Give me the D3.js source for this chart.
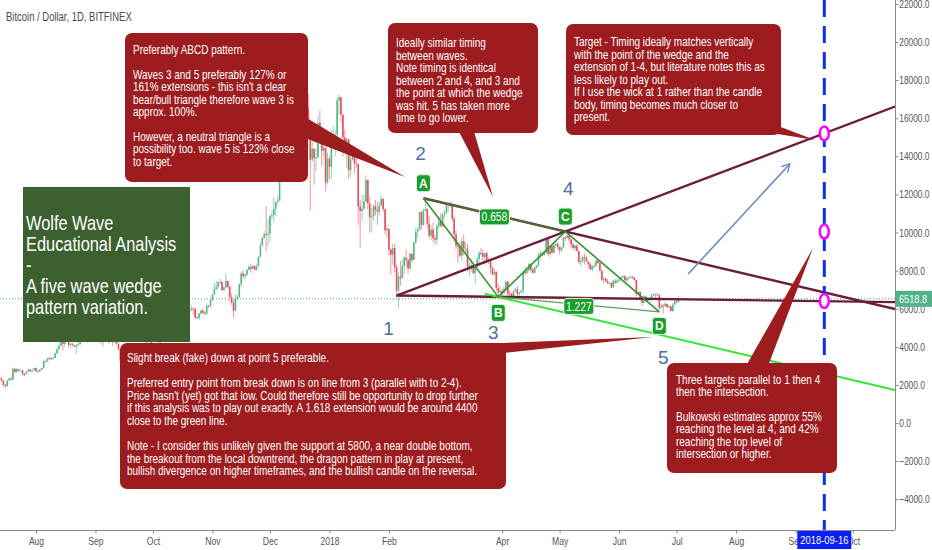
<!DOCTYPE html>
<html><head><meta charset="utf-8">
<script src="https://cdn.jsdelivr.net/npm/d3@7"></script>
<style>
html,body{margin:0;padding:0;background:#fff;}
svg{display:block;font-family:"Liberation Sans",Arial,sans-serif;}
</style></head><body>
<svg id="chart" width="932" height="550"></svg>
<script>
// ---------------- DATA ----------------
const title = "Bitcoin / Dollar, 1D, BITFINEX";
const startDate = "2017-07-13";
const startOpen = 2380;
// daily [close, high, low]; open = previous close
const jul2017 = [[2350,2420,2320],[2220,2370,2180],[1980,2230,1960],[1930,2050,1840],[2230,2260,1920],[2330,2400,2210],[2270,2420,2240],[2850,2900,2260],[2680,2860,2620],[2830,2880,2650],[2760,2850,2700],[2760,2790,2710],[2580,2770,2480],[2570,2620,2450],[2700,2720,2540],[2800,2840,2680],[2720,2810,2690],[2780,2790,2660],[2880,2900,2750]];
const aug2017 = [[2720,2920,2680],[2710,2770,2680],[2800,2830,2700],[2880,2900,2780],[3250,3290,2870],[3230,3270,3180],[3400,3420,3210],[3350,3480,3330],[3420,3450,3300],[3420,3440,3360],[3650,3700,3410],[3880,3950,3620],[4060,4190,3850],[4330,4340,4030],[4160,4400,3800],[4380,4400,4000],[4300,4480,4260],[4100,4360,3950],[4170,4190,3950],[4080,4190,4060],[4010,4090,3980],[4090,4130,3610],[4140,4250,4050],[4320,4340,4110],[4360,4440,4300],[4350,4380,4310],[4350,4390,4330],[4390,4400,4200],[4600,4620,4370],[4590,4640,4490],[4740,4760,4580]];
const sep2017 = [[4940,4970,4730],[4580,4980,4480],[4630,4720,4450],[4290,4620,4120],[4450,4500,3980],[4620,4660,4440],[4620,4650,4520],[4330,4670,4150],[4350,4370,4230],[4300,4340,4050],[4250,4330,4200],[4170,4350,4100],[3880,4170,3780],[3240,3920,3200],[3700,3780,2980],[3690,3850,3550],[3690,3760,3530],[4080,4120,3690],[3910,4090,3850],[3890,4040,3850],[3630,3890,3580],[3600,3750,3520],[3790,3820,3580],[3680,3790,3640],[3930,3970,3680],[3890,3980,3860],[4210,4230,3880],[4190,4270,4150],[4170,4210,4030],[4340,4370,4160]];
const oct2017 = [[4410,4420,4300],[4400,4470,4380],[4320,4450,4270],[4230,4350,4180],[4330,4360,4200],[4370,4420,4330],[4440,4460,4350],[4620,4640,4430],[4780,4880,4560],[4790,4920,4730],[4840,4880,4760],[5440,5450,4840],[5640,5860,5400],[5830,5850,5600],[5700,5860,5450],[5760,5800,5600],[5600,5770,5550],[5590,5610,5120],[5710,5730,5520],[6010,6080,5640],[6010,6180,5870],[5980,6070,5720],[5530,6030,5470],[5520,5610,5480],[5750,5780,5420],[5900,5960,5700],[5780,5990,5700],[5750,5850,5690],[6150,6290,5680],[6130,6200,6050],[6460,6470,6100]];
const nov2017 = [[6740,6780,6380],[7030,7330,6720],[7150,7470,6980],[7380,7450,7000],[7400,7600,7300],[6980,7440,6930],[7120,7200,6950],[7460,7860,7080],[7140,7470,7060],[6610,7270,6400],[6340,6810,6200],[5890,6470,5500],[6540,6780,5860],[6600,6730,6430],[7280,7330,6600],[7850,7960,7130],[7710,8000,7600],[7790,7860,7480],[8040,8100,7700],[8200,8280,8030],[8090,8370,7900],[8250,8300,8080],[8040,8270,8010],[8230,8340,8000],[8730,8760,8200],[9310,9520,8700],[9730,9740,9300],[9920,10080,9660],[9890,11400,9000],[9950,10700,9300]];
const dec2017 = [[10860,10940,9500],[10910,11160,10700],[11240,11850,10500],[11600,11620,10850],[11670,11900,11460],[13750,13860,11670],[16850,17170,13730],[16050,17300,13800],[14870,16300,13300],[15060,15700,13000],[16730,17400,15050],[17080,17500,16400],[16280,17270,15900],[16440,16900,16000],[17570,17990,16360],[19100,19200,17500],[19000,19890,18600],[18960,19180,18050],[17370,19000,16500],[16500,17800,15100],[15490,17300,14900],[13830,15800,11160],[14400,15500,13700],[13900,14400,12500],[13950,14400,13200],[15760,16100,13900],[15440,16400,14800],[14290,15500,13500],[14450,15100,14000],[12620,14500,12150],[13880,14200,12500]];
const jan2018 = [[13450,14000,12800],[14780,15400,12800],[15100,15600,14700],[15150,15400,14000],[16940,17100,15000],[17100,17250,16200],[16190,17100,15800],[14990,16200,14000],[14430,15400,14200],[14900,14950,13400],[13270,14900,12800],[13840,14100,12900],[14210,14500,13800],[13630,14400,13100],[13590,14300,13400],[11360,13600,10400],[11130,11700,9200],[11250,12000,10600],[11630,12000,11200],[12750,13000,11600],[11530,12800,11200],[10800,11900,10000],[10850,11300,10000],[11380,11500,10600],[11180,11700,10900],[11090,11600,10400],[11420,11600,10900],[11760,12000,11400],[11220,11800,11100],[10120,11250,9900],[10200,10400,9700]];
const feb2018 = [[9100,10200,8800],[8830,9200,7800],[9180,9450,8300],[8180,9400,7900],[6950,8300,6600],[7690,7900,6000],[7600,8500,7200],[8260,8600,7600],[8680,8750,7800],[8560,9100,8200],[8100,8600,7850],[8880,8950,8100],[8560,8900,8400],[9490,9520,8550],[10050,10250,9400],[10170,10300,9700],[11080,11100,10100],[10400,11100,10150],[11150,11250,10350],[11230,11790,11100],[10470,11300,10200],[9830,10900,9700],[10160,10400,9600],[9700,10500,9500],[9620,9900,9350],[10330,10450,9400],[10580,10850,10200],[10330,11000,10300]];
const mar2018 = [[10920,11050,10250],[11020,11200,10800],[11440,11500,11000],[11510,11550,11100],[11440,11650,11350],[10720,11450,10600],[9910,10900,9500],[9300,10100,9100],[9230,9400,8400],[8780,9500,8700],[9540,9750,8500],[9150,9900,8800],[9150,9500,8900],[8200,9400,7950],[8270,8450,7700],[8290,8600,7900],[7870,8350,7800],[8200,8300,7300],[8600,8700,8100],[8920,9050,8300],[8900,9180,8800],[8720,9100,8500],[8910,8950,8300],[8540,9000,8500],[8460,8700,8350],[8140,8500,7850],[7790,8200,7750],[7940,8100,7750],[7090,7950,6950],[6850,7300,6600],[6930,7200,6800]];
const apr2018 = [[6810,7050,6450],[7050,7150,6800],[7420,7500,7000],[6790,7450,6700],[6780,6950,6600],[6610,6850,6530],[6900,7050,6600],[7020,7100,6900],[6770,7200,6620],[6840,6880,6680],[6950,6990,6830],[7920,8000,6760],[7890,8200,7750],[8000,8200,7800],[8350,8400,8000],[8060,8400,7900],[7890,8150,7850],[8170,8220,7870],[8280,8300,8100],[8860,8950,8200],[8920,9050,8600],[8800,9000,8750],[8940,9000,8800],[9650,9700,8900],[8870,9750,8750],[9280,9300,8700],[8930,9350,8900],[9350,9450,8900],[9400,9550,9200],[9240,9450,9100]];
const may2018 = [[9070,9250,8850],[9220,9250,9000],[9740,9780,9200],[9700,9800,9550],[9850,9990,9700],[9640,9900,9500],[9370,9650,9200],[9180,9450,9100],[9310,9350,9000],[9030,9380,9000],[8450,9050,8350],[8490,8700,8200],[8710,8800,8400],[8680,8900,8300],[8480,8800,8450],[8340,8480,8150],[8060,8400,8050],[8240,8270,7950],[8240,8380,8150],[8530,8560,8200],[8400,8550,8350],[8000,8420,7950],[7520,8020,7450],[7580,7700,7300],[7450,7650,7380],[7340,7550,7300],[7350,7420,7250],[7110,7400,7080],[7460,7540,7100],[7380,7550,7300],[7480,7600,7350]];
const jun2018 = [[7520,7580,7400],[7640,7700,7470],[7710,7780,7600],[7490,7750,7450],[7620,7650,7400],[7650,7700,7500],[7680,7750,7630],[7620,7700,7550],[7500,7680,7480],[6770,7520,6650],[6880,6920,6700],[6550,6900,6500],[6310,6620,6150],[6640,6700,6300],[6400,6660,6350],[6500,6550,6400],[6460,6580,6440],[6700,6800,6420],[6740,6830,6680],[6760,6800,6560],[6720,6800,6700],[6050,6740,5940],[6160,6250,6000],[6150,6250,5750],[6250,6350,6080],[6080,6280,6060],[6130,6190,6030],[5880,6150,5850],[6200,6300,5830],[6390,6500,6200]];
const jul2018 = [[6360,6440,6270],[6518.8,6650,6300]];

const yTicks = [-4000,-2000,0,2000,4000,6000,8000,10000,12000,14000,16000,18000,20000,22000];
const xTickDates = ["2017-08-01","2017-09-01","2017-10-01","2017-11-01","2017-12-01","2018-01-01","2018-02-01","2018-04-01","2018-05-01","2018-06-01","2018-07-01","2018-08-01","2018-09-01","2018-10-01"];
const xTickLabels = ["Aug","Sep","Oct","Nov","Dec","2018","Feb","Apr","May","Jun","Jul","Aug","Sep","Oct"];

// Wolfe wave points (wave number, ABCD letter, date, price)
const waveNums = ["1","2","3","4","5"];
const waveLetters = [null,"A","B","C","D"];
const waveDates = ["2018-02-05","2018-02-19","2018-03-30","2018-05-04","2018-06-22"];
const waveValues = [6690, 11800, 6620, 10050, 5830];
const ratioLabels = ["0.658","1.227"];
const greenLineStart = "2018-03-23";
const targetDate = "2018-09-16";
const targetValues = [15200, 10050, 6400];
const lastPrice = 6518.8;
const arrowDates = ["2018-07-07","2018-08-29"];
const arrowValues = [7820, 13600];

// ---------------- SETUP ----------------
const svg = d3.select("#chart");
const plotR = 895, plotB = 530;
const parse = d3.utcParse("%Y-%m-%d");
const DAY = 864e5;
const x = d3.scaleUtc()
  .domain([new Date(Date.UTC(2017,6,13,5,31)), new Date(Date.UTC(2018,9,22,20,38))])
  .range([0, plotR]);
const y = d3.scaleLinear().domain([-4000, 22000]).range([499.2, 3.9]);

// narrow text helper (horizontal compression)
function ntext(sel, tx, ty, str, size, sx, anchor){
  return sel.append("text").attr("transform",`translate(${tx},${ty}) scale(${sx},1)`)
    .attr("text-anchor",anchor||"start").attr("font-size",size).text(str);
}

const defs = svg.append("defs");
defs.append("clipPath").attr("id","plot")
  .append("rect").attr("x",0).attr("y",0).attr("width",plotR).attr("height",plotB);
defs.append("marker").attr("id","arr")
  .attr("viewBox","0 0 10 10").attr("refX",9).attr("refY",5)
  .attr("markerWidth",9).attr("markerHeight",9).attr("orient","auto").attr("markerUnits","userSpaceOnUse")
  .append("path").attr("d","M0,0 L9,5 L0,10").attr("fill","none").attr("stroke","#6f87c7").attr("stroke-width",1.6);

// candles
const months = [jul2017,aug2017,sep2017,oct2017,nov2017,dec2017,jan2018,feb2018,mar2018,apr2018,may2018,jun2018,jul2018];
const rows = [].concat(...months);
const t0 = parse(startDate).getTime();
const candles = rows.map((r,i) => ({
  date: new Date(t0 + i*DAY),
  o: i === 0 ? startOpen : rows[i-1][0],
  c: r[0], h: r[1], l: r[2]
}));
const UP = "#53b987", DN = "#eb4d5c";
const cg = svg.append("g").attr("clip-path","url(#plot)");
cg.selectAll("line.w").data(candles).join("line")
  .attr("x1",d=>x(d.date)).attr("x2",d=>x(d.date))
  .attr("y1",d=>y(d.h)).attr("y2",d=>y(d.l))
  .attr("stroke",d=>d.c>=d.o?UP:DN).attr("stroke-width",0.8).attr("opacity",0.75);
cg.selectAll("rect.b").data(candles).join("rect")
  .attr("x",d=>x(d.date)-0.8).attr("width",1.6)
  .attr("y",d=>y(Math.max(d.o,d.c)))
  .attr("height",d=>Math.max(1,Math.abs(y(d.o)-y(d.c))))
  .attr("fill",d=>d.c>=d.o?UP:DN);

// last price dotted line
cg.append("line").attr("x1",0).attr("x2",plotR).attr("y1",y(lastPrice)).attr("y2",y(lastPrice))
  .attr("stroke","#3a9c80").attr("stroke-width",1).attr("stroke-dasharray","1,2");

// ---------------- PATTERN ----------------
const P = waveDates.map((d,i)=>({date:parse(d), v:waveValues[i]}));
const endDate = x.invert(plotR);
function extend(a, b, toDate){
  const s = (b.v - a.v)/(b.date - a.date);
  return a.v + s*(toDate - a.date);
}
const lg = svg.append("g").attr("clip-path","url(#plot)");
const MAROON = "#6b1d3a";
const seg = (a,b,col,w,op)=>lg.append("line")
  .attr("x1",x(a.date)).attr("y1",y(a.v)).attr("x2",x(b.date)).attr("y2",y(b.v))
  .attr("stroke",col).attr("stroke-width",w).attr("opacity",op||1);
seg(P[0], {date:endDate, v:extend(P[0],P[3],endDate)}, MAROON, 2.4);   // 1-4
seg(P[1], {date:endDate, v:extend(P[1],P[3],endDate)}, MAROON, 2.4);   // 2-4
seg(P[0], {date:endDate, v:extend(P[0],P[2],endDate)}, MAROON, 2.4);   // 1-3
const slope24 = (P[3].v-P[1].v)/(P[3].date-P[1].date);
const gs = parse(greenLineStart);
seg({date:gs, v:P[2].v + slope24*(gs-P[2].date)}, {date:endDate, v:P[2].v + slope24*(endDate-P[2].date)}, "#33e633", 2);

seg(P[1],P[3],"#3f8a2a",1.6,0.85);
seg(P[2],P[4],"#5f9f5f",1.2);
lg.append("path").attr("d", d3.line().x(d=>x(d.date)).y(d=>y(d.v))(P.slice(1)))
  .attr("fill","none").attr("stroke","#2f9630").attr("stroke-width",1.6);

const tx = x(parse(targetDate));
lg.append("line").attr("x1",tx).attr("x2",tx).attr("y1",0).attr("y2",plotB)
  .attr("stroke","#1030f0").attr("stroke-width",3).attr("stroke-dasharray","17,9");
lg.selectAll("ellipse.t").data(targetValues).join("ellipse")
  .attr("cx",tx).attr("cy",d=>y(d)).attr("rx",4.5).attr("ry",7)
  .attr("fill","#fff").attr("stroke","#ff00ff").attr("stroke-width",2.5);

lg.append("line")
  .attr("x1",x(parse(arrowDates[0]))).attr("y1",y(arrowValues[0]))
  .attr("x2",x(parse(arrowDates[1]))).attr("y2",y(arrowValues[1]))
  .attr("stroke","#6f87c7").attr("stroke-width",1.6).attr("marker-end","url(#arr)");

const ratioPairs = [[P[1],P[3]],[P[2],P[4]]];
ratioPairs.forEach((pr,i)=>{
  const mx = (x(pr[0].date)+x(pr[1].date))/2, my = (y(pr[0].v)+y(pr[1].v))/2 + 2;
  const g = svg.append("g").attr("transform",`translate(${mx},${my})`);
  g.append("rect").attr("x",-15).attr("y",-8).attr("width",30).attr("height",16).attr("rx",3)
    .attr("fill","#1b9e2b").attr("stroke","#e8f5e8").attr("stroke-width",1);
  ntext(g, 0, 4.5, ratioLabels[i], 12.5, 0.82, "middle").attr("fill","#fff");
});

const letterOff = [0,-15,16,-15,14];
P.forEach((p,i)=>{
  if(!waveLetters[i]) return;
  const g = svg.append("g").attr("transform",`translate(${x(p.date)},${y(p.v)+letterOff[i]})`);
  g.append("rect").attr("x",-7).attr("y",-8.5).attr("width",14).attr("height",17).attr("rx",3)
    .attr("fill","#1b9e2b").attr("stroke","#e8f5e8").attr("stroke-width",1);
  g.append("text").attr("text-anchor","middle").attr("y",4.5).attr("fill","#fff")
    .attr("font-size",12).attr("font-weight","bold").text(waveLetters[i]);
});
const numOff = [[-8,32],[-3,-45],[-5,35],[3,-44],[4,45]];
P.forEach((p,i)=>{
  svg.append("text").attr("x",x(p.date)+numOff[i][0]).attr("y",y(p.v)+numOff[i][1]+7)
    .attr("text-anchor","middle").attr("font-size",19).attr("fill","#4d6e9e").text(waveNums[i]);
});

// ---------------- AXES ----------------
const AX = "#8a8a8a", TXT = "#555";
svg.append("line").attr("x1",plotR+0.5).attr("x2",plotR+0.5).attr("y1",0).attr("y2",plotB).attr("stroke",AX);
svg.append("line").attr("x1",0).attr("x2",plotR).attr("y1",plotB+0.5).attr("y2",plotB+0.5).attr("stroke",AX);
const ya = svg.append("g").attr("transform",`translate(${plotR+0.5},0)`)
  .call(d3.axisRight(y).tickValues(yTicks).tickSize(3).tickPadding(2).tickFormat(d3.format(".1f")));
ya.select(".domain").remove();
ya.selectAll("line").attr("stroke",AX);
ya.selectAll("text").attr("fill",TXT).attr("font-size",11).attr("font-family","'Liberation Sans',Arial,sans-serif")
  .attr("transform","scale(0.76,1)");
const xa = svg.append("g").attr("transform",`translate(0,${plotB+0.5})`)
  .call(d3.axisBottom(x).tickValues(xTickDates.map(parse)).tickSize(3).tickPadding(4)
    .tickFormat((d,i)=>xTickLabels[i]));
xa.select(".domain").remove();
xa.selectAll("line").attr("stroke",AX);
xa.selectAll("text").attr("fill",TXT).attr("font-size",11).attr("font-family","'Liberation Sans',Arial,sans-serif")
  .attr("transform","scale(0.78,1)");

svg.append("rect").attr("x",plotR+1).attr("y",y(lastPrice)-8).attr("width",37).attr("height",16).attr("fill","#4fb387");
ntext(svg, plotR+4, y(lastPrice)+4, d3.format(".1f")(lastPrice), 11.5, 0.8).attr("fill","#fff");
svg.append("rect").attr("x",tx-27).attr("y",plotB+1).attr("width",54).attr("height",18).attr("fill","#0a1ef5");
ntext(svg, tx, plotB+14, targetDate, 11.5, 0.82, "middle").attr("fill","#fff");

ntext(svg, 6, 21, title, 12, 0.79).attr("fill","#4a4a4a");

// ---------------- CALLOUTS ----------------
const RED = "#9c1c1f";
const callouts = [
  {x:125,y:33,w:183,h:149, tip:[[300,114],[300,136],[405,177]], tx:133, ty:54, lh:12.4,
   lines:["Preferably ABCD pattern.","","Waves 3 and 5 preferably 127% or","161% extensions - this isn't a clear","bear/bull triangle therefore wave 3 is","approx. 100%.","","However, a neutral triangle is a","possibility too. wave 5 is 123% close","to target."]},
  {x:388,y:23,w:150,h:110, tip:[[457,128],[473,128],[493,197]], tx:396, ty:47, lh:12.5,
   lines:["Ideally similar timing","between waves.","Note timing is identical","between 2 and 4, and 3 and","the point at which the wedge","was hit. 5 has taken more","time to go lower."]},
  {x:566,y:24,w:215,h:111, tip:[[752,130],[778,126],[815,140]], tx:574, ty:46, lh:12.5,
   lines:["Target - Timing ideally matches vertically","with the point of the wedge and the","extension of 1-4, but literature notes this as","less likely to play out.","If I use the wick at 1 rather than the candle","body, timing becomes much closer to","present."]},
  {x:120,y:343,w:386,h:146, tip:[[480,344],[504,353],[653,337]], tx:127, ty:362, lh:12.6,
   lines:["Slight break (fake) down at point 5 preferable.","","Preferred entry point from break down is on line from 3 (parallel with to 2-4).","Price hasn't (yet) got that low. Could therefore still be opportunity to drop further","if this analysis was to play out exactly. A 1.618 extension would be around 4400","close to the green line.","","Note - I consider this unlikely given the support at 5800, a near double bottom,","the breakout from the local downtrend, the dragon pattern in play at present,","bullish divergence on higher timeframes, and the bullish candle on the reversal."]},
  {x:667,y:363,w:170,h:110, tip:[[746,366],[768,366],[813,248]], tx:676, ty:383.5, lh:12.4,
   lines:["Three targets parallel to 1 then 4","then the intersection.","","Bulkowski estimates approx 55%","reaching the level at 4, and 42%","reaching the top level of","intersection or higher."]}
];
callouts.forEach(c=>{
  const g = svg.append("g");
  g.append("polygon").attr("points",c.tip.map(p=>p.join(",")).join(" ")).attr("fill",RED);
  g.append("rect").attr("x",c.x).attr("y",c.y).attr("width",c.w).attr("height",c.h).attr("rx",7).attr("fill",RED);
  c.lines.forEach((ln,i)=>{ if(ln) ntext(g, c.tx, c.ty+i*c.lh, ln, 12.5, 0.8).attr("fill","#fff"); });
});

const titleLines = ["Wolfe Wave","Educational Analysis","-","A five wave wedge","pattern variation."];
const tb = svg.append("g");
tb.append("rect").attr("x",23).attr("y",187).attr("width",167).attr("height",155).attr("fill","#3c6030");
titleLines.forEach((ln,i)=>ntext(tb, 26, 230+i*21, ln, 20, 0.82).attr("fill","#fff"));
</script>
</body></html>
